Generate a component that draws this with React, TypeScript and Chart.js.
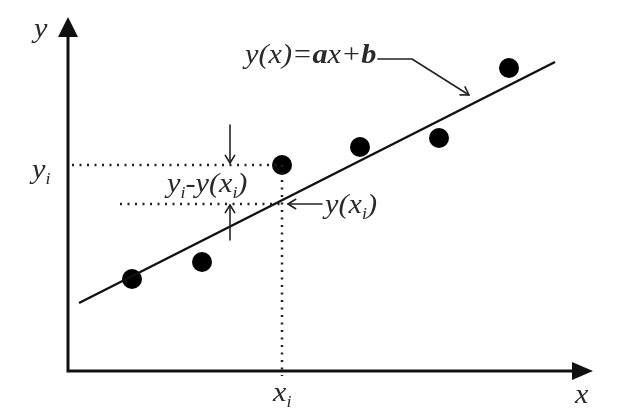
import React, { useEffect, useRef } from "react";
import { Chart, registerables } from "chart.js";

Chart.register(...registerables);

// Data (units: diagram coordinates, origin at the axes' corner)
const pointsX = [6.4, 13.4, 21.4, 29.2, 37.1, 44.1];
const pointsY = [9.2, 10.9, 20.6, 22.4, 23.3, 30.3];
const fitLineX = [1.1, 48.7];
const fitLineY = [6.8, 30.9];
const xI = 21.4;
const yI = 20.6;
const yOfXI = 16.7;
const axisXEnd = 52.5;
const axisYEnd = 35.4;

type Part = { t: string; sub?: boolean; bold?: boolean };

const labels: { parts: Part[]; x: number; y: number }[] = [
  { parts: [{ t: "y" }], x: -3.4, y: 33.4 },
  { parts: [{ t: "y" }, { t: "i", sub: true }], x: -3.6, y: 19.3 },
  { parts: [{ t: "x" }, { t: "i", sub: true }], x: 20.5, y: -3.0 },
  { parts: [{ t: "x" }], x: 50.7, y: -3.2 },
  {
    parts: [
      { t: "y(x)=" },
      { t: "a", bold: true },
      { t: "x+" },
      { t: "b", bold: true },
    ],
    x: 17.7,
    y: 30.8,
  },
  {
    parts: [
      { t: "y" },
      { t: "i", sub: true },
      { t: "-y(x" },
      { t: "i", sub: true },
      { t: ")" },
    ],
    x: 9.9,
    y: 17.9,
  },
  {
    parts: [{ t: "y(x" }, { t: "i", sub: true }, { t: ")" }],
    x: 25.7,
    y: 15.8,
  },
];

const arrows: { path: [number, number][] }[] = [
  { path: [[31.0, 31.2], [34.4, 31.2], [40.1, 27.6]] },
  { path: [[16.2, 24.6], [16.2, 20.8]] },
  { path: [[16.2, 13.1], [16.2, 16.6]] },
  { path: [[25.4, 16.7], [22.0, 16.7]] },
];

const FAMILY = "'Liberation Serif'";

const diagramPlugin = {
  id: "diagram",
  beforeDatasetsDraw(chart: any) {
    const { ctx } = chart;
    const xs = chart.scales.x;
    const ys = chart.scales.y;
    const px = (v: number) => xs.getPixelForValue(v);
    const py = (v: number) => ys.getPixelForValue(v);
    ctx.save();
    ctx.strokeStyle = "#111";
    ctx.fillStyle = "#111";
    ctx.lineWidth = 3;
    // axes
    ctx.beginPath();
    ctx.moveTo(px(0), py(axisYEnd) + 15);
    ctx.lineTo(px(0), py(0));
    ctx.lineTo(px(axisXEnd) - 15, py(0));
    ctx.stroke();
    // arrow heads
    ctx.beginPath();
    ctx.moveTo(px(0), py(axisYEnd));
    ctx.lineTo(px(0) - 10, py(axisYEnd) + 20);
    ctx.lineTo(px(0) + 10, py(axisYEnd) + 20);
    ctx.closePath();
    ctx.fill();
    ctx.beginPath();
    ctx.moveTo(px(axisXEnd), py(0));
    ctx.lineTo(px(axisXEnd) - 21, py(0) - 9);
    ctx.lineTo(px(axisXEnd) - 21, py(0) + 9);
    ctx.closePath();
    ctx.fill();
    ctx.restore();
  },
  afterDatasetsDraw(chart: any) {
    const { ctx } = chart;
    const xs = chart.scales.x;
    const ys = chart.scales.y;
    const px = (v: number) => xs.getPixelForValue(v);
    const py = (v: number) => ys.getPixelForValue(v);
    ctx.save();
    ctx.strokeStyle = "#222";
    ctx.lineWidth = 1.6;
    ctx.lineCap = "round";
    ctx.lineJoin = "round";
    for (const a of arrows) {
      const pts = a.path.map(([x, y]) => [px(x), py(y)]);
      ctx.beginPath();
      ctx.moveTo(pts[0][0], pts[0][1]);
      for (let i = 1; i < pts.length; i++) ctx.lineTo(pts[i][0], pts[i][1]);
      ctx.stroke();
      const [x1, y1] = pts[pts.length - 2];
      const [x2, y2] = pts[pts.length - 1];
      const ang = Math.atan2(y2 - y1, x2 - x1);
      const len = 9;
      const spread = 0.55;
      ctx.beginPath();
      ctx.moveTo(x2 - len * Math.cos(ang - spread), y2 - len * Math.sin(ang - spread));
      ctx.lineTo(x2, y2);
      ctx.lineTo(x2 - len * Math.cos(ang + spread), y2 - len * Math.sin(ang + spread));
      ctx.stroke();
    }
    ctx.restore();
  },
  afterDraw(chart: any) {
    const { ctx } = chart;
    const xs = chart.scales.x;
    const ys = chart.scales.y;
    const px = (v: number) => xs.getPixelForValue(v);
    const py = (v: number) => ys.getPixelForValue(v);
    ctx.save();
    ctx.fillStyle = "#2a2a2a";
    ctx.textBaseline = "alphabetic";
    ctx.textAlign = "left";
    for (const l of labels) {
      ctx.save();
      ctx.translate(px(l.x), py(l.y));
      ctx.scale(1.12, 1);
      let cx = 0;
      for (const p of l.parts) {
        const size = p.sub ? 16 : 27;
        ctx.font = `italic ${p.bold ? "bold " : ""}${size}px ${FAMILY}`;
        ctx.fillText(p.t, cx, p.sub ? 6 : 0);
        cx += ctx.measureText(p.t).width;
      }
      ctx.restore();
    }
    ctx.restore();
  },
};

export default function App() {
  const ref = useRef<HTMLCanvasElement | null>(null);
  useEffect(() => {
    document.body.style.margin = "0";
    const canvas = ref.current;
    if (!canvas) return;
    const dotted = {
      borderColor: "#222",
      borderWidth: 2.5,
      borderDash: [2, 5.5],
      pointRadius: 0,
      showLine: true,
      fill: false,
    };
    const chart = new Chart(canvas, {
      type: "scatter",
      data: {
        datasets: [
          {
            ...dotted,
            data: [
              { x: 0.4, y: yI },
              { x: xI, y: yI },
            ],
          },
          {
            ...dotted,
            data: [
              { x: 5.2, y: yOfXI },
              { x: xI, y: yOfXI },
            ],
          },
          {
            ...dotted,
            data: [
              { x: xI, y: yI },
              { x: xI, y: -0.5 },
            ],
          },
          {
            data: fitLineX.map((x, i) => ({ x, y: fitLineY[i] })),
            showLine: true,
            borderColor: "#111",
            borderWidth: 2.5,
            pointRadius: 0,
          },
          {
            data: pointsX.map((x, i) => ({ x, y: pointsY[i] })),
            pointRadius: 10,
            pointBackgroundColor: "#000",
            pointBorderColor: "#000",
            pointBorderWidth: 0,
            showLine: false,
          },
        ],
      },
      options: {
        animation: false,
        responsive: false,
        maintainAspectRatio: false,
        layout: { padding: 0, autoPadding: false },
        plugins: {
          legend: { display: false },
          tooltip: { enabled: false },
        },
        scales: {
          x: { type: "linear", min: -6.8, max: 57.2, display: false },
          y: { type: "linear", min: -4.4, max: 37.1, display: false },
        },
      },
      plugins: [diagramPlugin],
    } as any);
    return () => chart.destroy();
  }, []);
  return (
    <div style={{ position: "absolute", left: 0, top: 0, width: 640, height: 415, background: "#fff" }}>
      <canvas ref={ref} width={640} height={415} />
    </div>
  );
}
